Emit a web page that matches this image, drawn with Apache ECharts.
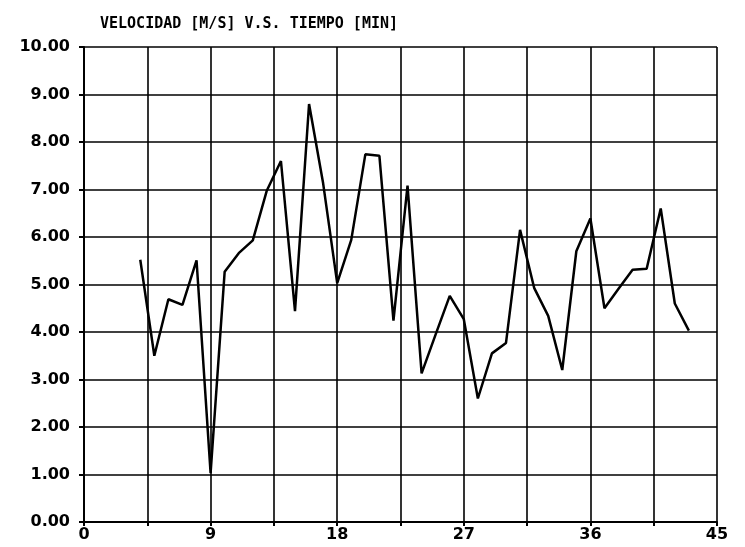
<!DOCTYPE html>
<html>
<head>
<meta charset="utf-8">
<script src="https://cdn.jsdelivr.net/npm/echarts@6/dist/echarts.min.js"></script>
<style>
  html, body { margin: 0; padding: 0; background: #fff; }
  #main { width: 745px; height: 547px; }
</style>
</head>
<body>
<div id="main"></div>
<script>
var myChart = echarts.init(document.getElementById('main'));

// tiempo (min) y velocidad (m/s)
var tiempo = [4, 5, 6, 7, 8, 9, 10, 11, 12, 13, 14, 15, 16, 17, 18, 19, 20, 21, 22, 23,
              24, 25, 26, 27, 28, 29, 30, 31, 32, 33, 34, 35, 36, 37, 38, 39, 40, 41, 42, 43];
var velocidad = [5.52, 3.50, 4.69, 4.57, 5.51, 1.03, 5.27, 5.66, 5.93, 6.98,
                 7.60, 4.44, 8.80, 7.13, 5.03, 5.94, 7.74, 7.71, 4.24, 7.08,
                 3.13, 3.95, 4.76, 4.27, 2.60, 3.55, 3.77, 6.15, 4.93, 4.34,
                 3.20, 5.70, 6.39, 4.50, 4.91, 5.31, 5.33, 6.60, 4.60, 4.03];
var xTicks = [0, 9, 18, 27, 36, 45];

var puntos = tiempo.map(function (t, i) { return [t, velocidad[i]]; });

var fontNum = 'DejaVu Sans';

option = {
    animation: false,
    backgroundColor: '#fff',
    title: {
        text: 'VELOCIDAD [M/S] V.S. TIEMPO [MIN]',
        left: 95,
        top: 12,
        textStyle: {
            fontFamily: 'DejaVu Sans Mono',
            fontWeight: 'bold',
            fontSize: 15,
            color: '#000'
        }
    },
    grid: {
        left: 84,
        right: 28,
        top: 47,
        bottom: 25
    },
    xAxis: {
        type: 'value',
        min: 0,
        max: 45,
        interval: 4.5,
        axisLine: { show: true, onZero: false, lineStyle: { color: '#000', width: 2 } },
        axisTick: { show: true, length: 4, inside: false, lineStyle: { color: '#000', width: 2 } },
        splitLine: { show: true, lineStyle: { color: '#000', width: 1.6 } },
        axisLabel: {
            margin: 5,
            fontFamily: fontNum,
            fontWeight: 'bold',
            fontSize: 16,
            color: '#000',
            formatter: function (v) {
                return xTicks.indexOf(v) >= 0 ? String(v) : '';
            }
        }
    },
    yAxis: {
        type: 'value',
        min: 0,
        max: 10,
        interval: 1,
        axisLine: { show: true, lineStyle: { color: '#000', width: 2 } },
        axisTick: { show: true, length: 5, lineStyle: { color: '#000', width: 2 } },
        splitLine: { show: true, lineStyle: { color: '#000', width: 1.6 } },
        axisLabel: {
            margin: 14,
            fontFamily: fontNum,
            fontWeight: 'bold',
            fontSize: 16,
            color: '#000',
            formatter: function (v) { return v.toFixed(2); }
        }
    },
    series: [
        {
            name: 'Velocidad',
            type: 'line',
            data: puntos,
            showSymbol: false,
            lineStyle: { color: '#000', width: 2.5 },
            z: 5
        }
    ]
};

myChart.setOption(option);
</script>
</body>
</html>
